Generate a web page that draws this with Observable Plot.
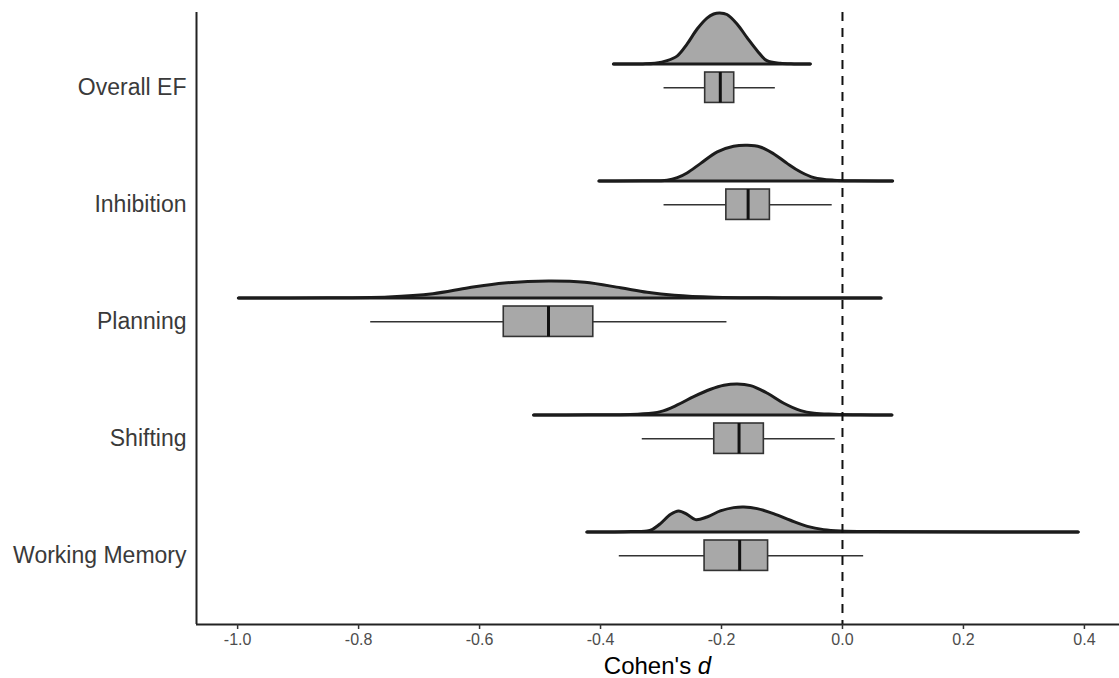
<!DOCTYPE html>
<html>
<head>
<meta charset="utf-8">
<script src="https://cdn.jsdelivr.net/npm/d3@7"></script>
<script src="https://cdn.jsdelivr.net/npm/@observablehq/plot@0.6"></script>
<style>
  body { margin: 0; background: #fff; }
</style>
</head>
<body>
<div id="chart"></div>
<script>
// ---- data ----
const categories = ["Overall EF", "Inhibition", "Planning", "Shifting", "Working Memory"];

// density curves: [cohen's d, estimated density]
const densOverall = [[-0.378,0],[-0.33,0.02],[-0.31,0.15],[-0.29,0.65],[-0.273,1.6],[-0.257,3.9],[-0.240,6.9],[-0.224,9.0],[-0.213,9.8],[-0.203,10.0],[-0.191,9.7],[-0.174,7.8],[-0.158,5.2],[-0.141,2.6],[-0.125,0.65],[-0.103,0.14],[-0.08,0.02],[-0.053,0]];
const densInhibition = [[-0.402,0],[-0.33,0.02],[-0.290,0.14],[-0.273,0.65],[-0.257,1.57],[-0.235,3.4],[-0.207,5.7],[-0.180,6.8],[-0.157,7.0],[-0.136,6.67],[-0.114,5.35],[-0.091,3.4],[-0.069,1.76],[-0.047,0.65],[-0.014,0.14],[0.02,0.02],[0.083,0]];
const densPlanning = [[-0.998,0],[-0.85,0.05],[-0.751,0.2],[-0.677,0.84],[-0.618,2.0],[-0.559,2.94],[-0.486,3.33],[-0.426,3.08],[-0.367,2.0],[-0.323,1.12],[-0.278,0.53],[-0.212,0.14],[-0.10,0.01],[0.064,0]];
const densShifting = [[-0.510,0],[-0.42,0.02],[-0.334,0.2],[-0.301,0.65],[-0.273,1.96],[-0.246,3.6],[-0.218,5.04],[-0.196,5.82],[-0.174,6.08],[-0.152,5.75],[-0.124,4.25],[-0.097,2.3],[-0.069,0.84],[-0.047,0.33],[-0.014,0.14],[0.03,0.03],[0.082,0]];
const densWM = [[-0.422,0],[-0.36,0.05],[-0.323,0.2],[-0.315,0.45],[-0.301,1.63],[-0.284,3.46],[-0.271,4.12],[-0.257,3.46],[-0.243,2.42],[-0.224,2.94],[-0.202,4.12],[-0.180,4.77],[-0.163,4.9],[-0.141,4.58],[-0.114,3.6],[-0.086,2.29],[-0.058,1.1],[-0.031,0.46],[-0.003,0.2],[0.05,0.08],[0.15,0.03],[0.390,0]];
const densities = [densOverall, densInhibition, densPlanning, densShifting, densWM];

// box plot statistics
const whiskerLow  = [-0.295, -0.295, -0.780, -0.331, -0.369];
const q1          = [-0.227, -0.192, -0.560, -0.212, -0.228];
const median      = [-0.202, -0.156, -0.486, -0.171, -0.170];
const q3          = [-0.179, -0.120, -0.412, -0.130, -0.123];
const whiskerHigh = [-0.111, -0.017, -0.191, -0.012,  0.035];

const xTicks = [-1.0, -0.8, -0.6, -0.4, -0.2, 0.0, 0.2, 0.4];
const refLine = [0];

// ---- build tables ----
const DENS_SCALE = 0.0436;   // density -> y units
const BASE_OFF = 0.203;      // density baseline above category centre
const BOX_HALF = 0.13;

const densRows = densities.flatMap((arr, i) =>
  arr.map(([x, d]) => ({cat: i + 1, x, base: i + 1 - BASE_OFF, top: i + 1 - BASE_OFF - d * DENS_SCALE})));
const baseRows = densities.map((arr, i) => ({cat: i + 1, x1: arr[0][0], x2: arr[arr.length - 1][0], y: i + 1 - BASE_OFF}));
const boxRows = categories.map((c, i) => ({
  cat: i + 1, lo: whiskerLow[i], q1: q1[i], med: median[i], q3: q3[i], hi: whiskerHigh[i]
}));

const xDomain = [-1.068, 0.458];
const yDomain = [5.588, 0.357];

const FONT = "'Liberation Sans', Arial, Helvetica, sans-serif";
const CURVE = "catmull-rom";

const svg = Plot.plot({
  width: 1119,
  height: 678,
  marginLeft: 196,
  marginRight: 0,
  marginTop: 12,
  marginBottom: 54,
  style: {fontFamily: FONT, background: "#fff"},
  x: {domain: xDomain, label: null},
  y: {domain: yDomain, label: null},
  marks: [
    // densities
    ...densities.map((_, i) => Plot.areaY(densRows.filter(r => r.cat === i + 1), {
      x: "x", y1: "base", y2: "top", fill: "#a8a8a8", curve: CURVE
    })),
    Plot.ruleY(baseRows, {y: "y", x1: "x1", x2: "x2", stroke: "#1c1c1c", strokeWidth: 3, strokeLinecap: "round"}),
    ...densities.map((_, i) => Plot.line(densRows.filter(r => r.cat === i + 1), {
      x: "x", y: "top", stroke: "#1c1c1c", strokeWidth: 3, curve: CURVE, strokeLinecap: "round", strokeLinejoin: "round"
    })),
    // whiskers
    Plot.ruleY(boxRows, {y: "cat", x1: "lo", x2: "q1", stroke: "#333", strokeWidth: 1.6}),
    Plot.ruleY(boxRows, {y: "cat", x1: "q3", x2: "hi", stroke: "#333", strokeWidth: 1.6}),
    // boxes
    Plot.rect(boxRows, {
      x1: "q1", x2: "q3",
      y1: d => d.cat - BOX_HALF, y2: d => d.cat + BOX_HALF,
      fill: "#a8a8a8", stroke: "#333", strokeWidth: 1.6
    }),
    Plot.ruleX(boxRows, {x: "med", y1: d => d.cat - BOX_HALF, y2: d => d.cat + BOX_HALF, stroke: "#111", strokeWidth: 3}),
    // reference line at 0
    Plot.ruleX(refLine, {stroke: "#111", strokeWidth: 2, strokeDasharray: "9,7"}),
    // axis lines
    Plot.ruleX([xDomain[0]], {stroke: "#222", strokeWidth: 2}),
    Plot.ruleY([yDomain[0]], {stroke: "#222", strokeWidth: 2}),
    // axes
    Plot.axisY({
      ticks: [1, 2, 3, 4, 5], tickFormat: i => categories[i - 1],
      tickSize: 0, tickPadding: 10, fontSize: 23, fill: "#3a3a3a", label: null
    }),
    Plot.axisX({
      ticks: xTicks, tickFormat: d => d.toFixed(1),
      tickSize: 5, tickPadding: 4, fontSize: 16, fill: "#4d4d4d", stroke: "#333", strokeWidth: 1.5, label: null
    })
  ]
});

// x axis title with italic d
const xs = svg.scale("x").range;
const t = d3.select(svg).append("text")
  .attr("x", (xs[0] + xs[1]) / 2)
  .attr("y", 674)
  .attr("text-anchor", "middle")
  .attr("font-family", FONT)
  .attr("font-size", 24)
  .attr("fill", "#000");
t.append("tspan").text("Cohen's ");
t.append("tspan").attr("font-style", "italic").text("d");

document.getElementById("chart").appendChild(svg);
</script>
</body>
</html>
